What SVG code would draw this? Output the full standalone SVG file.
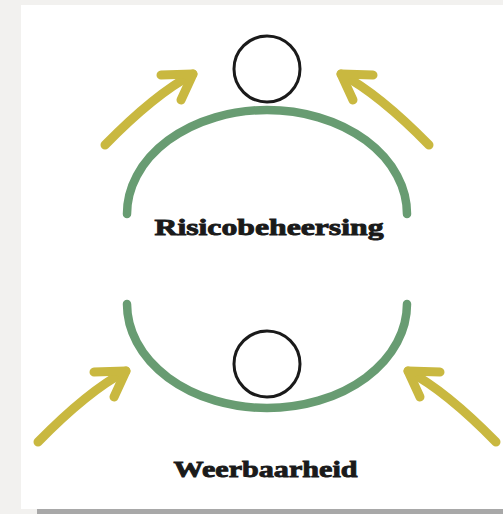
<svg xmlns="http://www.w3.org/2000/svg" xmlns:xlink="http://www.w3.org/1999/xlink" width="503" height="514" viewBox="0 0 503 514">
<style>
.bowl{fill:none;stroke:#689c72;stroke-width:8.5;stroke-linecap:round}
.ball{fill:#fff;stroke:#1a1a1a;stroke-width:3}
.arrow{fill:none;stroke:#c9b840;stroke-width:9;stroke-linecap:round;stroke-linejoin:round}
.lbl{font-family:"Liberation Serif","DejaVu Serif",serif;font-weight:bold;font-size:24px;fill:#1a1a1a;stroke:#1a1a1a;stroke-width:0.9;text-anchor:middle}
</style>
<defs>
<g id="arr">
<path d="M38,442 Q88,391 126,371"/>
<path d="M94,372 L126,371 L114,397"/>
</g>
</defs>
<rect x="0" y="0" width="503" height="514" fill="#f2f1ef"/>
<rect x="37" y="509" width="466" height="5" fill="#a8a8a8"/>
<rect x="21" y="5" width="482" height="504" fill="#ffffff"/>
<g id="connectors" class="arrow">
<use xlink:href="#arr" transform="translate(67,-297)"/>
<use xlink:href="#arr" transform="translate(467,-297) scale(-1,1)"/>
<use xlink:href="#arr"/>
<use xlink:href="#arr" transform="translate(534,0) scale(-1,1)"/>
</g>
<g id="risicobeheersing">
<path class="bowl" d="M127,214 A140,104 0 0 1 407,214"/>
<circle class="ball" cx="267" cy="69" r="33"/>
<text class="lbl" x="269" y="235" textLength="229" lengthAdjust="spacingAndGlyphs">Risicobeheersing</text>
</g>
<g id="weerbaarheid">
<path class="bowl" d="M127,304 A140,104 0 0 0 407,304"/>
<circle class="ball" cx="267" cy="364" r="33"/>
<text class="lbl" x="265.5" y="477" textLength="184" lengthAdjust="spacingAndGlyphs">Weerbaarheid</text>
</g>
</svg>
